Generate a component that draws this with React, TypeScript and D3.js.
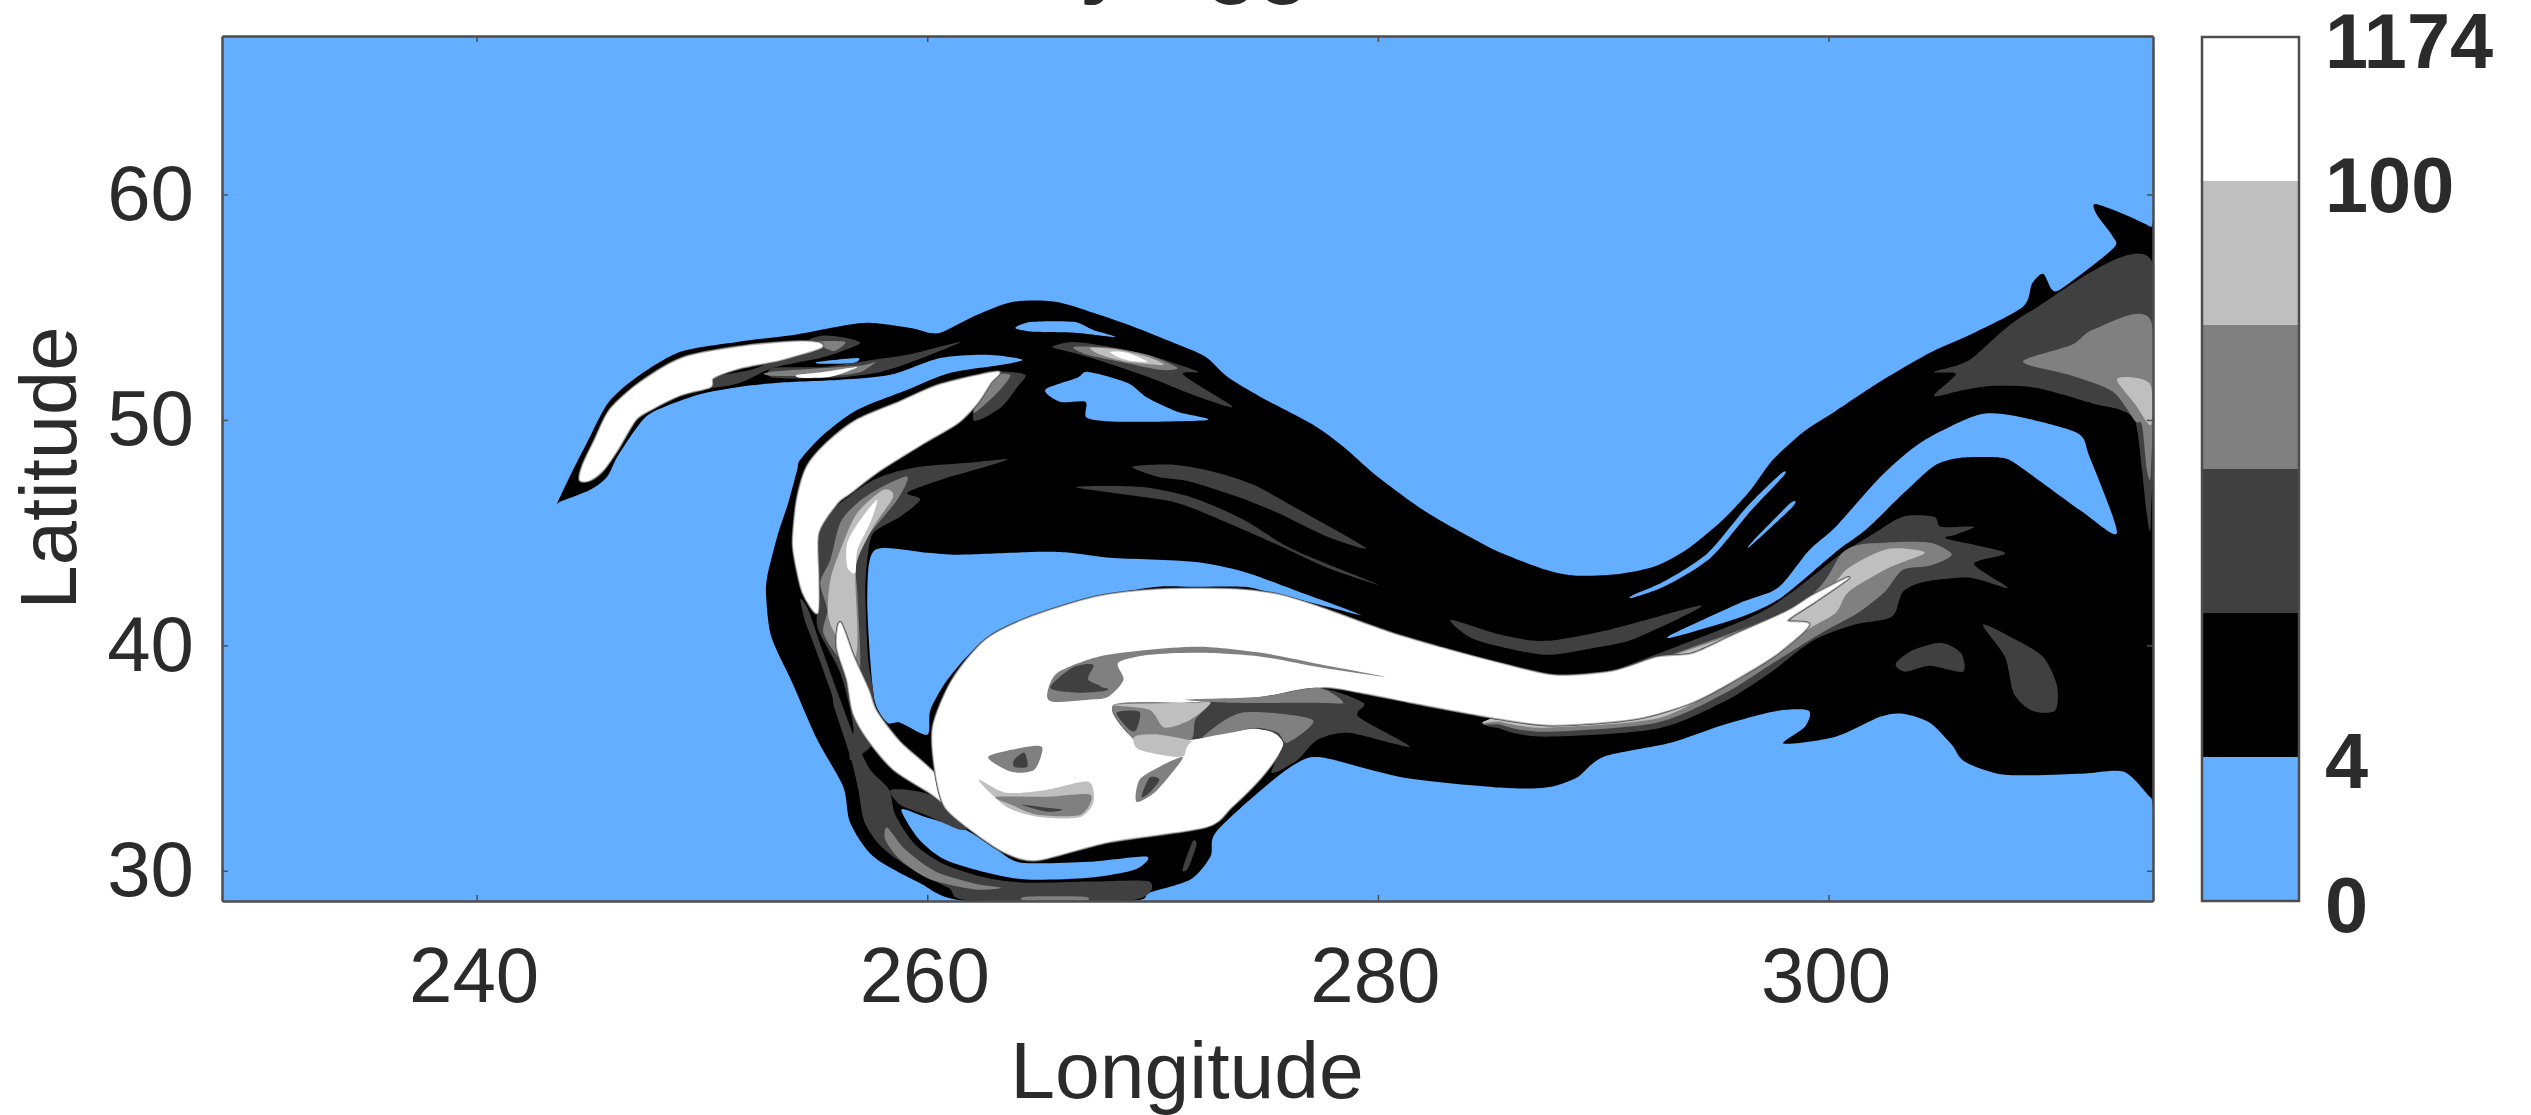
import { useRef, useEffect } from 'react';
import * as d3 from 'd3';

type Pt = [number, number];

const lonTicks = [240, 260, 280, 300];
const latTicks = [30, 40, 50, 60];
const lonExtent = [228.7, 314.4];
const latExtent = [28.66, 67.03];

const bandColors = ['#64aeff', '#000000', '#404040', '#808080', '#bfbfbf', '#ffffff'];
const barTickAt = [0, 1, 5, 6];
const barTickLabels = ['0', '4', '100', '1174'];
const [BLUE, BLACK, DARK, MID, LIGHT, WHITE] = bandColors;

// every outline below is [longitude, latitude]
const silhouette: Pt[] = [[243.57,46.28],[244.28,47.79],[244.9,48.99],[245.84,50.76],[247.13,51.91],[249.04,53.02],[251.57,53.46],[254.05,53.77],[255.7,54.08],[257.34,54.31],[259.25,54.08],[260.14,53.86],[260.71,53.91],[262.22,54.66],[263.82,55.24],[265.69,55.24],[267.37,54.75],[269.15,54.13],[270.93,53.42],[272.35,52.8],[273.32,51.91],[274.79,51.02],[277.14,49.78],[278.47,48.81],[279.99,47.48],[282.2,45.88],[284.56,44.55],[285.45,44.11],[287.45,43.35],[288.82,43.09],[290.78,43.18],[292.37,43.53],[293.75,44.28],[295.35,45.61],[296.55,46.9],[297.53,48.23],[298.95,49.52],[300.32,50.4],[302.28,51.69],[304.5,52.98],[306.45,53.86],[308.63,55.02],[309.03,56.04],[309.52,56.48],[309.92,55.77],[310.4,55.86],[312.62,57.59],[312.62,58.12],[311.91,59.1],[311.82,59.58],[312.98,59.18],[314.31,58.56],[314.4,58.3],[314.4,33.6],[314.31,33.24],[313.11,34.39],[311.2,34.31],[307.83,34.26],[306.05,34.84],[305.47,35.59],[304.5,36.57],[303.3,36.97],[302.28,36.83],[300.32,35.95],[298.01,35.64],[298.95,36.39],[299.12,37.1],[297.75,37.1],[295.35,36.48],[292.99,35.68],[290.02,35.06],[288.82,34.13],[287.45,33.69],[285.45,33.69],[281.18,34.13],[277.54,35.02],[276.43,34.79],[274.83,33.6],[272.79,31.69],[272.57,30.63],[271.68,29.61],[269.86,29.03],[268.97,28.67],[261.69,28.67],[259.65,29.47],[257.61,30.63],[256.58,32.13],[256.27,33.73],[255.12,35.81],[254.01,38.34],[253.08,40.38],[252.85,42.16],[252.9,43.04],[253.34,44.82],[253.83,46.32],[254.23,47.79],[254.36,48.23],[255.39,49.34],[256.9,50.45],[259.12,51.34],[261.03,52.09],[263.25,52.44],[264.22,52.67],[262.67,52.89],[260.58,52.75],[258.36,52],[256.14,51.78],[253.39,51.65],[251.7,51.47],[249.79,51.11],[247.84,50.36],[247.13,49.69],[246.24,48.36],[245.79,47.48],[245.04,46.9],[243.71,46.37]];

const bayMain: Pt[] = [[257.69,44.24],[260,44.11],[261.47,44.02],[265.02,44.15],[266.35,44.11],[268.13,43.89],[271.81,43.71],[274.04,43.27],[276.26,42.47],[279.23,41.36],[277.76,41.71],[275.1,42.38],[274.04,42.6],[271.81,42.6],[270.22,42.6],[267.99,42.24],[265.91,41.71],[263.25,40.69],[262.05,39.81],[260.89,38.47],[260.14,37.14],[260,36.04],[258.8,36.57],[258.23,36.57],[257.69,37.45],[257.47,39.36],[257.34,42.33]];
const bayHook: Pt[] = [[258.85,32.71],[259.87,32.4],[261.69,31.82],[263.07,30.94],[264.18,30.36],[267.15,30.4],[269.73,30.63],[269.2,30.05],[267.15,29.69],[264.4,29.61],[262.62,29.92],[260.8,30.49],[259.65,31.38]];
const bayCrest: Pt[] = [[263.91,54.08],[264.66,54.35],[266.49,54.35],[267.37,53.99],[268.35,53.68],[266.66,53.86],[264.71,53.91]];
const bayWedge: Pt[] = [[265.24,51.34],[266.66,51.87],[267.15,52.13],[268.88,51.65],[269.77,50.98],[271.1,50.36],[272.44,50],[268.71,49.92],[267.11,50.09],[267.02,50.8],[265.91,50.8]];
const bayTongue: Pt[] = [[255.16,52.58],[256.9,52.75],[256.72,52.53],[255.25,52.49]];
const bayEast: Pt[] = [[302.1,47.26],[303.48,48.54],[304.68,49.34],[306.67,50.23],[308.23,50.18],[311.02,49.43],[311.6,48.32],[312.8,44.99],[311.2,45.97],[308.45,47.96],[307.65,48.32],[305.87,48.32],[304.68,47.96],[303.3,46.72],[301.7,45.17],[300.5,44.28],[299.3,43.27],[297.75,42.02],[296.15,41.27],[293.18,40.38],[293.09,40.51],[295.97,41.84],[297.75,42.55],[299.12,44.2],[300.32,45.26]];
const sliverA: Pt[] = [[298.01,47.52],[296.55,45.97],[294.77,43.89],[292.77,42.64],[291.31,42.11],[291.31,42.22],[292.73,42.85],[294.64,44.1],[296.38,46.15],[297.88,47.61]];
const sliverB: Pt[] = [[298.41,46.15],[296.55,44.42],[296.64,44.62],[298.3,46.3]];

const neDark: Pt[] = [[304.68,51.07],[305.65,52.04],[304.68,52.13],[306.27,52.67],[308.85,54.75],[314.31,57.1],[314.31,45.79],[314.13,45.79],[313.91,47.79],[313.6,49.96],[312.8,50.49],[311.82,50.71],[309.25,51.42],[307.25,51.51],[306.05,51.34]];
const neMid: Pt[] = [[308.63,52.58],[310.8,53.33],[311.82,54.04],[314.31,54.39],[314.31,47.79],[314.13,47.79],[313.91,49.78],[313.6,49.96],[312.62,51.25],[310.8,51.96]];
const neLight: Pt[] = [[312.8,51.78],[313.6,51.87],[314.31,51.51],[314.31,49.78],[313.6,50.71]];
const patchEast: Pt[] = [[302.98,39.18],[303.69,39.76],[305,40.11],[305.87,39.67],[305.96,38.83],[304.5,39.1],[303.39,38.83]];
const patchDrop: Pt[] = [[306.85,40.91],[308.23,40.29],[309.52,39.49],[310.14,38.21],[310.05,37.1],[309.03,37.1],[308.23,37.85],[307.83,39.49]];
const streakUpper: Pt[] = [[269.11,47.92],[270.93,48.01],[272.7,47.7],[274.48,47.12],[276.26,46.15],[279.45,44.33],[277.76,44.82],[275.55,45.88],[273.77,46.59],[271.68,47.26],[270.22,47.48]];
const streakLower: Pt[] = [[266.58,47.03],[269.46,47.03],[271.81,46.54],[274.04,45.57],[276.26,44.24],[280.03,42.69],[277.76,43.44],[275.55,44.46],[273.32,45.44],[271.1,46.32],[268.88,46.68]];
const ridgeDark: Pt[] = [[265.55,53.24],[266.49,53.46],[268.13,53.24],[269.77,52.89],[270.93,52.53],[272.04,52.13],[271.37,51.99],[273.55,50.58],[271.81,51.11],[269.77,51.91],[267.82,52.58],[266.49,52.98]];
const ridgeMid: Pt[] = [[266.49,53.24],[268.13,53.2],[269.77,52.89],[271.1,52.31],[270.35,52.22],[268.57,52.58],[267.11,52.89]];
const ridgeLight: Pt[] = [[267.24,53.2],[268.44,53.11],[269.77,52.8],[270.48,52.44],[268.88,52.58],[267.69,52.89]];
const ridgeWhite: Pt[] = [[268.13,53.02],[268.88,52.98],[269.77,52.58],[269.01,52.62],[268.44,52.8]];

const tongueWhite: Pt[] = [[244.59,47.34],[244.73,48.01],[245.26,49.12],[245.93,50.45],[247.26,51.65],[249.17,52.75],[251.7,53.24],[254.05,53.46],[255.12,53.42],[255.25,53.2],[253.48,52.67],[251.7,52.31],[250.5,51.87],[250.37,51.47],[249.04,51.11],[247.7,50.45],[247.04,50],[246.24,48.67],[245.62,47.79],[245.04,47.34]];
const tongueDark: Pt[] = [[250.5,51.91],[252.45,52.31],[254.94,53.64],[256.14,53.68],[257.03,53.42],[256.14,53.02],[255.25,52.75],[253.16,52.31],[251.7,51.65],[250.37,51.43]];
const tongueMid: Pt[] = [[255.12,53.46],[256.36,53.46],[255.83,53.06]];
const tailDark: Pt[] = [[253.16,52.31],[255.39,52.35],[257.61,52.67],[259.12,52.89],[261.47,53.46],[259.56,52.67],[257.92,52.13],[255.83,51.87],[253.16,51.87]];
const tailMid: Pt[] = [[253.03,52.13],[256.9,52.4],[257.7,52.58],[257.03,52.13],[255.7,51.96],[253.12,51.96]];
const tailWhite: Pt[] = [[254.23,52],[255.39,52.13],[256.9,52.35],[255.7,51.91],[254.36,51.87]];

const arcWhite: Pt[] = [[263.11,52.13],[260.58,51.56],[258.8,50.8],[256.9,50],[255.56,48.98],[254.67,47.92],[254.23,46.46],[254.05,44.68],[254.14,43.8],[254.49,42.33],[255.12,41.44],[255.16,43.04],[255.16,44.99],[256,46.32],[256.58,46.77],[257.92,47.79],[259.83,48.98],[261.34,49.87],[262.22,50.76],[262.8,51.65]];
const arcTipDark: Pt[] = [[262.49,51.99],[263.56,52.13],[264.36,51.99],[264,51.46],[263.25,50.54],[262.05,50]];
const arcTipMid: Pt[] = [[262.8,51.87],[263.69,51.99],[263.11,51.2],[262.05,50.31]];
const arcInnerDark: Pt[] = [[263.56,48.23],[261.78,48.1],[259.38,47.88],[257.61,47.34],[256.14,46.32],[255.25,45.44],[255.03,43.66],[255.25,42.33],[255.12,40.82],[256.14,38.78],[256.72,36.39],[256.58,34.92],[257.7,35.82],[257.61,37.9],[257.38,39.36],[257.25,42.33],[257.34,43.8],[257.61,44.99],[258.8,45.71],[259.69,46.46],[259.12,46.77],[260.58,47.34]];
const arcInnerMid: Pt[] = [[259.12,47.48],[257.92,46.99],[256.9,46.32],[256.14,45.44],[255.7,43.8],[255.25,42.78],[255.56,41.58],[255.39,40.55],[256.14,39.36],[256.9,38.78],[257.03,39.49],[256.9,42.33],[256.81,43.8],[257.34,44.82],[258.67,46.46]];
const arcInnerLight: Pt[] = [[258.05,46.9],[256.9,45.88],[256.27,44.55],[255.7,42.91],[255.61,41.27],[256.14,40.11],[256.81,39.49],[256.9,40.82],[256.81,42.78],[256.9,43.8],[257.61,45.26],[258.49,46.59]];
const arcInnerWhite: Pt[] = [[257.78,46.46],[257.03,45.57],[256.45,44.55],[256.45,43.48],[256.81,43.22],[256.9,44.24],[257.47,45.44]];
const arcLowerWhite: Pt[] = [[256.14,41],[256.72,39.49],[257.38,38.03],[257.74,37.06],[258.8,35.68],[260.36,34.26],[261.47,32.49],[260.14,33.46],[258.54,34.48],[257.38,35.82],[256.72,37.01],[256.45,38.47],[256,39.93]];

const hookDark: Pt[] = [[254.36,42.02],[254.8,40.25],[255.47,38.47],[256.05,36.7],[256.63,34.92],[256.94,33.6],[257.21,32.17],[257.92,31.11],[259.21,30.14],[260.94,29.25],[261.91,28.69],[269.01,28.69],[269.86,29.52],[267.24,29.52],[264.4,29.47],[262.62,29.69],[260.8,30.27],[259.47,31.16],[258.58,32.49],[258.31,33.6],[257.47,34.48],[256.81,35.82],[256.14,37.59],[255.34,39.8],[254.72,41.58]];
const hookBlack: Pt[] = [[254.49,41.24],[255.7,38.03],[255.79,37.28],[255.34,38.03]];
const hookMid: Pt[] = [[258.23,31.91],[259.03,30.94],[260.36,29.97],[262.13,29.43],[263.29,29.25],[262.13,29.17],[260.14,29.61],[258.8,30.49],[258.14,31.38]];
const hookFloor: Pt[] = [[264.4,28.85],[266.93,28.85],[266.93,28.67],[264.4,28.67]];
const hookWedge: Pt[] = [[258.4,33.6],[260.14,33.37],[261.69,32.05],[261.47,31.82],[259.91,32.49],[258.8,32.93]];
const hookEast: Pt[] = [[271.77,31.29],[271.95,31.16],[271.59,30.14],[271.33,30.05]];

const plumeWhite: Pt[] = [[260.36,34.48],[260.27,36.39],[261.13,38.47],[262.62,40.25],[264.66,41.27],[267.59,42.16],[270.31,42.47],[273.73,42.47],[275.55,42.24],[277.32,41.71],[280.52,40.56],[282.78,39.89],[285.45,39.18],[287.85,38.65],[290.42,38.83],[292.37,39.45],[293.97,39.62],[295.75,40.42],[298.15,41.49],[299.3,42.2],[300.9,43],[299.3,41.89],[298.15,41.09],[299.12,40.91],[297.75,39.67],[295.97,38.56],[293.97,37.5],[291.39,36.75],[287.85,36.48],[285.45,36.75],[281.63,37.45],[279.36,37.9],[277.32,38.12],[276.13,36.7],[275.77,35.5],[274.83,34.17],[273.5,32.84],[272.35,31.95],[268.04,31.29],[264.89,30.49],[263.51,30.8],[262.13,31.69],[260.8,32.84]];
const plumeTipDark: Pt[] = [[295.75,40.91],[298.15,42.2],[300.5,44.02],[301.92,44.91],[303.3,45.71],[304.68,45.71],[305,45.26],[306.45,45.26],[305.65,44.91],[305.25,44.73],[307.83,44.11],[306.45,43.62],[307.96,42.55],[306.27,43],[304.27,42.82],[303.3,42.38],[302.81,41.27],[301.12,40.91],[299.3,40.2],[297.35,38.74],[295.35,37.5],[292.37,36.3],[287.45,35.95],[285.45,36.3],[285.45,36.92]];
const plumeTipMid: Pt[] = [[298.15,41.53],[300.72,44.2],[302.5,44.55],[304.5,44.55],[305.47,44.02],[304.5,43.53],[303.3,43.35],[302.5,42.38],[301.3,41.44],[299.7,40.56],[297.35,39.1],[295.35,37.85],[292.37,36.57],[287.45,36.17],[285.45,36.48],[285.45,36.92]];
const plumeTipLight: Pt[] = [[298.32,41.44],[300.9,43.44],[302.68,44.28],[304.27,44.11],[302.68,43.44],[300.9,42.38],[300.32,41.44],[299.12,40.73],[297.35,39.45],[295.35,38.21],[292.37,36.75],[287.45,36.35],[285.45,36.61],[285.45,36.92]];
const plumeAbove: Pt[] = [[283.23,41.13],[285.45,40.47],[287.45,40.2],[290.42,40.73],[294.37,41.76],[291.39,40.29],[289.4,39.85],[287.45,39.58],[285.45,39.94],[284.12,40.34]];

const seamMid: Pt[] = [[265.33,37.9],[265.78,38.79],[267.59,39.5],[269.86,39.81],[272.13,39.94],[274.83,39.67],[277.54,39.14],[280.3,38.61],[277.54,39.01],[274.83,39.5],[272.13,39.67],[269.86,39.58],[268.48,39.23],[268.71,38.47],[268.04,37.72],[267.15,37.59],[265.55,37.5]];
const seamDark: Pt[] = [[265.46,38.12],[266.44,39.01],[267.37,39.14],[267.15,38.47],[268.04,38.03],[266.71,37.9]];
const seamSpot: Pt[] = [[267.24,38.79],[268.26,38.83],[268.62,38.38],[267.82,38.12]];
const coreDark: Pt[] = [[279.36,37.45],[279.14,36.83],[281.41,35.5],[278.7,36.12],[277.32,35.81],[276.43,34.92],[275.28,34.35],[275.77,35.68],[274.83,36.26],[271.68,35.81],[270.08,35.81],[269.2,35.81],[268.26,37.28],[271.46,37.45],[274.83,37.72],[277.32,38.12]];
const coreMidLeft: Pt[] = [[268.26,37.36],[271.68,37.45],[272.57,37.45],[271.9,36.7],[271.68,35.81],[270.08,35.81],[269.2,35.81]];
const coreMidTop: Pt[] = [[277.32,38.12],[278.47,37.45],[277.1,37.45],[273.5,37.45],[271.46,37.59],[274.83,37.72]];
const coreMidPatch: Pt[] = [[273.95,37.01],[277.1,36.7],[275.99,35.68],[275.55,36.13],[274.61,36.35],[273.5,36.13],[272.13,35.82]];
const coreLight: Pt[] = [[268.26,37.36],[271.68,37.45],[272.57,37.45],[271.68,36.7],[270.53,36.35],[269.86,37.14]];
const coreSpot: Pt[] = [[268.4,37.01],[269.42,37.05],[269.28,36.26],[268.97,36.26]];
const coreLower: Pt[] = [[269.2,35.95],[270.31,36.04],[271.9,35.68],[271.24,35.06],[269.42,35.37]];
const lobeWhite: Pt[] = [[271.68,35.68],[273.5,36.13],[274.61,36.3],[275.55,35.95],[275.77,35.5],[274.83,34.17],[273.5,32.84],[272.35,31.95],[269.9,32.26],[271.24,34.48]];
const slitMid: Pt[] = [[271.33,35.06],[270.31,34.62],[269.42,34.04],[269.28,33.06],[270.08,33.46],[270.97,34.48]];
const slitDark: Pt[] = [[269.86,34.13],[270.31,34.04],[269.86,33.46],[269.51,33.28]];
const eyeMid: Pt[] = [[262.71,35.06],[264.44,35.5],[265.11,35.46],[264.75,34.48],[263.73,34.39]];
const eyeDark: Pt[] = [[263.86,34.93],[264.31,35.24],[264.44,34.62],[263.86,34.62]];
const smileLight: Pt[] = [[262.27,34.04],[263.51,33.46],[265.33,33.6],[267.15,33.95],[267.37,33.02],[266.71,32.36],[264.89,32.4],[263.51,32.84]];
const smileMid: Pt[] = [[263.07,33.28],[265.33,33.28],[267.24,33.37],[266.8,32.49],[264.89,32.49],[263.73,32.93]];
const smileDark: Pt[] = [[264.18,32.93],[265.33,32.8],[266,32.71],[265.33,32.62]];

// painter's order: background shades first, then the white core with its soft edge
const regions: [Pt[], string, boolean?][] = [
  [silhouette, BLACK],
  [bayMain, BLUE], [bayHook, BLUE], [bayCrest, BLUE], [bayWedge, BLUE], [bayTongue, BLUE],
  [bayEast, BLUE], [sliverA, BLUE], [sliverB, BLUE],
  [neDark, DARK], [neMid, MID], [neLight, LIGHT],
  [patchEast, DARK], [patchDrop, DARK], [streakUpper, DARK], [streakLower, DARK],
  [ridgeDark, DARK], [ridgeMid, MID], [ridgeLight, LIGHT], [ridgeWhite, WHITE],
  [tongueDark, DARK], [tongueMid, MID], [tailDark, DARK], [tailMid, MID],
  [arcTipDark, DARK], [arcTipMid, MID], [arcInnerDark, DARK], [hookDark, DARK], [hookBlack, BLACK],
  [hookMid, MID], [hookFloor, MID], [hookWedge, DARK], [hookEast, DARK],
  [plumeAbove, DARK], [plumeTipDark, DARK], [plumeTipMid, MID], [plumeTipLight, LIGHT],
  [arcInnerMid, MID], [arcInnerLight, LIGHT], [arcInnerWhite, WHITE],
  [tongueWhite, WHITE, true], [tailWhite, WHITE], [arcWhite, WHITE, true],
  [arcLowerWhite, WHITE, true], [plumeWhite, WHITE, true],
  [seamMid, MID], [seamDark, DARK], [seamSpot, MID],
  [coreDark, DARK], [coreMidLeft, MID], [coreMidTop, MID], [coreMidPatch, MID], [coreLight, LIGHT], [coreSpot, DARK], [coreLower, LIGHT],
  [lobeWhite, WHITE], [slitMid, MID], [slitDark, DARK],
  [eyeMid, MID], [eyeDark, DARK], [smileLight, LIGHT], [smileMid, MID], [smileDark, DARK],
];

const softEdge: [number, string][] = [[3.5, DARK], [2.5, MID], [1.5, LIGHT]];

const textColor = '#2b2b2b';
const lineColor = '#4d4d4d';
const sans = '"Liberation Sans", Arial, sans-serif';

export default function App() {
  const axesRef = useRef<SVGGElement>(null);

  const x = d3.scaleLinear().domain(lonExtent).range([222, 2153]);
  const y = d3.scaleLinear().domain(latExtent).range([901, 36]);
  const barY = d3.scaleLinear().domain([0, bandColors.length]).range([901, 37]);

  const outline = d3
    .line<Pt>()
    .x((d) => x(d[0]))
    .y((d) => y(d[1]))
    .curve(d3.curveCardinalClosed.tension(0.2));

  useEffect(() => {
    if (!axesRef.current) return;
    const g = d3.select(axesRef.current);
    g.selectAll('*').remove();

    const none = () => '';
    const bottom = d3.axisBottom(x).tickValues(lonTicks).tickSizeInner(-6).tickSizeOuter(0).tickPadding(46);
    const left = d3.axisLeft(y).tickValues(latTicks).tickSizeInner(-6).tickSizeOuter(0).tickPadding(28);
    const top = d3.axisTop(x).tickValues(lonTicks).tickSizeInner(-6).tickSizeOuter(0).tickFormat(none);
    const right = d3.axisRight(y).tickValues(latTicks).tickSizeInner(-6).tickSizeOuter(0).tickFormat(none);

    const bottomAxis = g.append('g').attr('transform', 'translate(0,901)').call(bottom);
    g.append('g').attr('transform', 'translate(222,0)').call(left);
    g.append('g').attr('transform', 'translate(0,36)').call(top);
    g.append('g').attr('transform', 'translate(2153,0)').call(right);

    g.selectAll('.domain').attr('stroke', lineColor).attr('stroke-width', 2.5);
    g.selectAll('.tick line').attr('stroke', lineColor).attr('stroke-width', 1.5);
    g.selectAll('.tick text')
      .attr('fill', textColor)
      .attr('font-family', sans)
      .attr('font-size', 78);
    bottomAxis.selectAll('.tick text').attr('dx', -3);
  }, []);

  return (
    <svg
      width={2531}
      height={1115}
      style={{ position: 'absolute', left: 0, top: 0, background: '#fff' }}
    >
      <defs>
        <clipPath id="plot">
          <rect x={222} y={36} width={1931} height={865} />
        </clipPath>
      </defs>

      <text y={-13} fontFamily={sans} fontSize={85} fontWeight="bold" fill={textColor}>
        <tspan x={1080}>y</tspan>
        <tspan x={1206}>gg</tspan>
      </text>

      <g clipPath="url(#plot)">
        <rect x={222} y={36} width={1931} height={865} fill={BLUE} />
        {regions.map(([pts, fill, soft], i) => (
          <g key={i}>
            {soft &&
              softEdge.map(([w, c]) => (
                <path key={c} d={outline(pts) ?? ''} fill="none" stroke={c} strokeWidth={w} strokeLinejoin="round" />
              ))}
            <path d={outline(pts) ?? ''} fill={fill} />
          </g>
        ))}
      </g>

      <g ref={axesRef} />

      <text x={1187} y={1098} textAnchor="middle" fontFamily={sans} fontSize={80.5} fill={textColor}>
        Longitude
      </text>
      <text
        transform="translate(76,468) rotate(-90)"
        textAnchor="middle"
        fontFamily={sans}
        fontSize={79.5}
        fill={textColor}
      >
        Latitude
      </text>

      {bandColors.map((c, i) => (
        <rect key={c} x={2202} y={barY(i + 1)} width={97} height={barY(i) - barY(i + 1)} fill={c} />
      ))}
      <rect x={2202} y={37} width={97} height={864} fill="none" stroke={lineColor} strokeWidth={2.5} />
      {barTickAt.map((at, i) => (
        <text
          key={at}
          x={2325}
          y={barY(at) + 3}
          dy="0.36em"
          fontFamily={sans}
          fontSize={77.5}
          fontWeight="bold"
          fill={textColor}
        >
          {barTickLabels[i]}
        </text>
      ))}
    </svg>
  );
}
